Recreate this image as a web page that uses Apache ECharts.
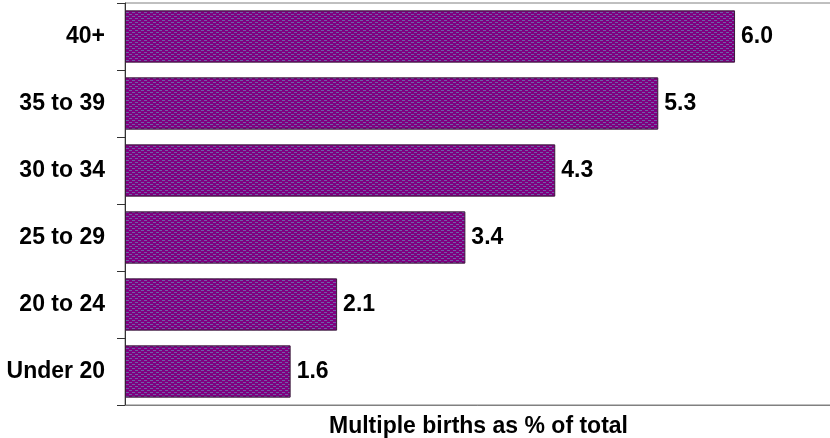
<!DOCTYPE html>
<html><head><meta charset="utf-8">
<script src="https://cdn.jsdelivr.net/npm/echarts@6/dist/echarts.min.js"></script>
<style>html,body{margin:0;padding:0;background:#fff}#c{width:830px;height:438px}</style>
</head><body><div id="c"></div>
<script>
const categories = ['Under 20', '20 to 24', '25 to 29', '30 to 34', '35 to 39', '40+'];
const values = [1.64, 2.1, 3.37, 4.26, 5.28, 6.04];
const axisTitle = 'Multiple births as % of total';

// hatch pattern tile
const tile = document.createElement('canvas');
tile.width = 6; tile.height = 4;
const g = tile.getContext('2d');
g.fillStyle = '#800080'; g.fillRect(0, 0, 6, 4);
g.fillStyle = '#6e5fa6';
g.fillRect(0, 0, 3, 1);
g.fillRect(3, 2, 3, 1);

const chart = echarts.init(document.getElementById('c'), null, {renderer: 'canvas'});
const font = 'Arial, "Liberation Sans", sans-serif';
chart.setOption({
  animation: false,
  grid: {left: 125, right: -2, top: 3, bottom: 33, show: true, borderColor: '#808080', borderWidth: 1,
    containLabel: false, outerBoundsMode: 'none'},
  xAxis: {
    type: 'value', min: 0, max: 7,
    axisLine: {show: true, lineStyle: {color: '#808080', width: 1}},
    axisTick: {show: false}, axisLabel: {show: false}, splitLine: {show: false},
    name: axisTitle, nameLocation: 'middle', nameGap: 10,
    nameTextStyle: {fontFamily: font, fontWeight: 'bold', fontSize: 23, color: '#000'}
  },
  yAxis: {
    type: 'category', data: categories,
    axisLine: {show: true, lineStyle: {color: '#333', width: 1}},
    axisTick: {show: true, length: 8, inside: false, lineStyle: {color: '#333'}},
    axisLabel: {margin: 20, fontFamily: font, fontWeight: 'bold', fontSize: 23, color: '#000'}
  },
  series: [{
    type: 'bar', data: values, barCategoryGap: '22%',
    itemStyle: {color: {image: tile, repeat: 'repeat'}, borderColor: '#3a1a3a', borderWidth: 1},
    label: {show: true, position: 'right', distance: 6, formatter: p => p.value.toFixed(1),
      fontFamily: font, fontWeight: 'bold', fontSize: 23, color: '#000'}
  }]
});
</script></body></html>
